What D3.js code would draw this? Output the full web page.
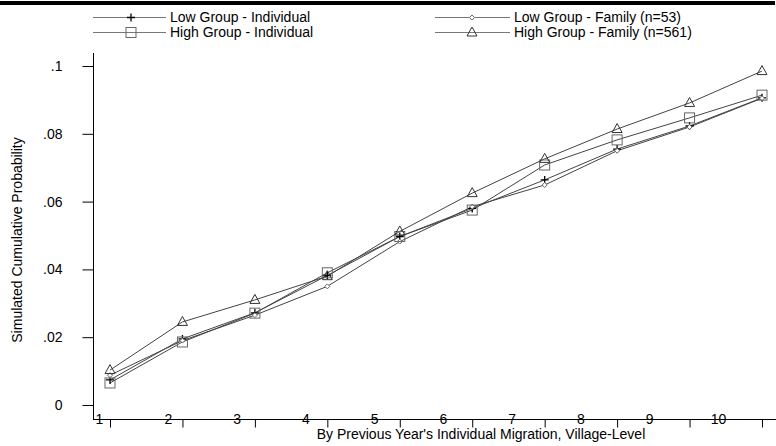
<!DOCTYPE html>
<html>
<head>
<meta charset="utf-8">
<script src="https://d3js.org/d3.v7.min.js"></script>
<style>
  body { margin: 0; background: #fff; }
  svg { display: block; font-family: "Liberation Sans", Arial, sans-serif; }
</style>
</head>
<body>
<script>
// categories on the x axis
var categories = [1, 2, 3, 4, 5, 6, 7, 8, 9, 10];
// series values (simulated cumulative probability)
var lowInd  = [0.0074, 0.0195, 0.0272, 0.0382, 0.0497, 0.0580, 0.0664, 0.0755, 0.0823, 0.0906];
var lowFam  = [0.0088, 0.0190, 0.0265, 0.0350, 0.0482, 0.0585, 0.0649, 0.0750, 0.0820, 0.0905];
var highInd = [0.0065, 0.0186, 0.0271, 0.0390, 0.0497, 0.0575, 0.0708, 0.0782, 0.0847, 0.0914];
var highFam = [0.0103, 0.0245, 0.0310, 0.0380, 0.0512, 0.0625, 0.0726, 0.0814, 0.0891, 0.0985];
// y tick values and labels
var yTicks = [0, 0.02, 0.04, 0.06, 0.08, 0.1];
var yLabels = ["0", ".02", ".04", ".06", ".08", ".1"];

var width = 776, height = 446;

var svg = d3.select("body").append("svg")
    .attr("width", width)
    .attr("height", height);

// set the ranges
var x = d3.scaleLinear().domain([1, 10]).range([110, 762]);
var xLab = d3.scaleLinear().domain([1, 10]).range([99, 718]);
var y = d3.scaleLinear().domain([0, 0.1]).range([405, 66]);

// thick rule at the top
svg.append("rect")
    .attr("x", 0).attr("y", 1)
    .attr("width", 775).attr("height", 4)
    .attr("fill", "#000");

// marker shapes
var markers = {
  plus: function(g) {
    g.append("path").attr("d", "M-4,0H4M0,-4V4")
      .attr("stroke", "#000").attr("stroke-width", 1.3).attr("fill", "none");
  },
  diamond: function(g) {
    g.append("path").attr("d", "M0,-2.5L2.5,0L0,2.5L-2.5,0Z")
      .attr("stroke", "#666").attr("stroke-width", 1).attr("fill", "#fff");
  },
  square: function(g) {
    g.append("rect").attr("x", -5).attr("y", -5).attr("width", 10).attr("height", 10)
      .attr("stroke", "#666").attr("stroke-width", 1).attr("fill", "none");
  },
  triangle: function(g) {
    g.append("path").attr("d", "M0,-5.5L5,3.5H-5Z")
      .attr("stroke", "#333").attr("stroke-width", 1).attr("fill", "none");
  }
};

var series = [
  {name: "Low Group - Individual", values: lowInd, marker: "plus"},
  {name: "Low Group - Family (n=53)", values: lowFam, marker: "diamond"},
  {name: "High Group - Individual", values: highInd, marker: "square"},
  {name: "High Group - Family (n=561)", values: highFam, marker: "triangle"}
];

var line = d3.line()
    .x(function(d, i) { return x(categories[i]); })
    .y(function(d) { return y(d); });

// lines and markers
series.forEach(function(s) {
  svg.append("path")
      .datum(s.values)
      .attr("d", line)
      .attr("fill", "none")
      .attr("stroke", "#444")
      .attr("stroke-width", 1);
});
series.forEach(function(s) {
  s.values.forEach(function(v, i) {
    var g = svg.append("g")
        .attr("transform", "translate(" + x(categories[i]) + "," + y(v) + ")");
    markers[s.marker](g);
  });
});

// legend
var legendPos = [
  {lx: 93, rx: 166, mx: 131, tx: 170, ty: 17},
  {lx: 435, rx: 510, mx: 472, tx: 514, ty: 17},
  {lx: 93, rx: 166, mx: 131, tx: 170, ty: 32},
  {lx: 435, rx: 510, mx: 472, tx: 514, ty: 32}
];
series.forEach(function(s, i) {
  var p = legendPos[i];
  svg.append("line")
      .attr("x1", p.lx).attr("x2", p.rx)
      .attr("y1", p.ty + 0.5).attr("y2", p.ty + 0.5)
      .attr("stroke", "#777").attr("stroke-width", 1);
  var g = svg.append("g").attr("transform", "translate(" + p.mx + "," + (p.ty + 0.5) + ")");
  markers[s.marker](g);
  svg.append("text")
      .attr("x", p.tx).attr("y", p.ty + 5)
      .attr("font-size", 14)
      .attr("fill", "#000")
      .text(s.name);
});

// y axis
var yAxis = svg.append("g")
    .attr("transform", "translate(93.5,0)")
    .call(d3.axisLeft(y).tickValues(yTicks).tickSize(11).tickPadding(20)
      .tickFormat(function(d, i) { return yLabels[i]; }));
yAxis.select(".domain").attr("d", "M0,53V419.5");
yAxis.selectAll("text").attr("font-size", 14).attr("font-family", "Liberation Sans, Arial, sans-serif").attr("fill", "#000");
yAxis.selectAll("line").attr("stroke", "#000");

// x axis: ticks
var xAxis = svg.append("g")
    .attr("transform", "translate(0,419.5)")
    .call(d3.axisBottom(x).tickValues(categories).tickSize(8).tickFormat(""));
xAxis.select(".domain").attr("d", "M93,0H776");
xAxis.selectAll("line").attr("stroke", "#000");

// x axis: labels sit on the axis line
var xAxisLab = svg.append("g")
    .attr("transform", "translate(0,419.5)")
    .call(d3.axisBottom(xLab).tickValues(categories).tickSize(0).tickPadding(0)
      .tickFormat(d3.format("d")));
xAxisLab.select(".domain").remove();
xAxisLab.selectAll("text")
    .attr("dy", "0.35em")
    .attr("y", 0)
    .attr("font-size", 14)
    .attr("font-family", "Liberation Sans, Arial, sans-serif")
    .attr("fill", "#000");

// axis titles
svg.append("text")
    .attr("x", 481).attr("y", 439)
    .attr("text-anchor", "middle")
    .attr("font-size", 14)
    .text("By Previous Year's Individual Migration, Village-Level");

svg.append("text")
    .attr("transform", "translate(22,240) rotate(-90)")
    .attr("text-anchor", "middle")
    .attr("font-size", 14)
    .text("Simulated Cumulative Probability");
</script>
</body>
</html>
